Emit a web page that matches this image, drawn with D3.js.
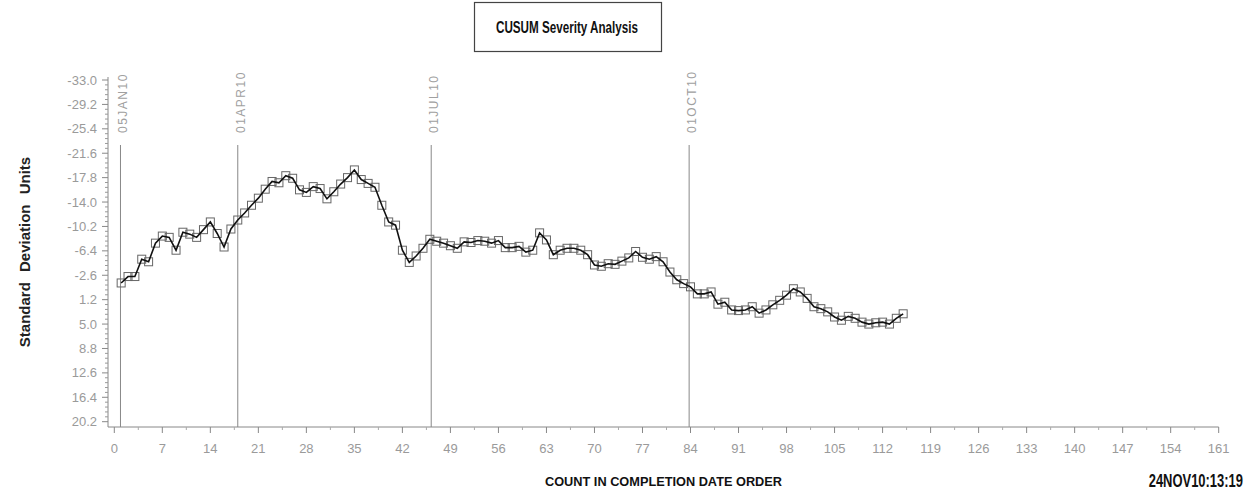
<!DOCTYPE html>
<html>
<head>
<meta charset="utf-8">
<script src="https://cdn.jsdelivr.net/npm/d3@7"></script>
<style>
  body { margin: 0; background: #fff; }
  .tick-label { font-family: 'Liberation Sans Narrow', 'Arial Narrow', sans-serif; font-size: 13px; fill: #9a9a9a; }
  .ref-label { font-family: 'Liberation Sans Narrow', 'Arial Narrow', sans-serif; font-size: 12px; fill: #a0a0a0; letter-spacing: 1.5px; }
</style>
</head>
<body>
<svg></svg>
<script>
'use strict';
// cusum values in order of completion date (count = index + 1)
var cusum = [
  -1.4, -2.4, -2.4, -5.1, -4.7, -7.6, -8.7, -8.5, -6.5, -9.3,
  -9.0, -8.5, -9.7, -10.9, -9.1, -7.0, -9.8, -11.2, -12.3, -13.5,
  -14.6, -16.0, -17.2, -17.0, -18.1, -17.7, -15.9, -15.5, -16.4, -16.1,
  -14.5, -15.6, -16.8, -17.8, -19.0, -17.5, -16.9, -16.3, -13.5, -10.9,
  -10.4, -6.5, -4.6, -5.6, -6.8, -8.2, -7.9, -7.6, -7.2, -6.8,
  -7.8, -7.7, -8.0, -7.9, -7.6, -8.0, -6.9, -6.9, -7.1, -6.2,
  -6.5, -9.2, -8.1, -5.8, -6.5, -6.8, -6.8, -6.5, -5.8, -4.2,
  -4.0, -4.4, -4.3, -4.8, -5.3, -6.3, -5.4, -5.1, -5.5, -4.7,
  -3.1, -1.9, -1.3, -0.8, 0.3, 0.3, 0.0, 1.9, 1.6, 2.8,
  2.9, 2.8, 2.3, 3.3, 2.8, 2.0, 1.3, 0.5, -0.5, 0.0,
  1.0, 2.3, 2.6, 3.1, 3.9, 4.4, 3.8, 4.1, 4.7, 5.0,
  4.8, 4.7, 5.0, 4.1, 3.4
];
var yTicks = [-33.0, -29.2, -25.4, -21.6, -17.8, -14.0, -10.2, -6.4, -2.6, 1.2, 5.0, 8.8, 12.6, 16.4, 20.2];
var xTicks = [0, 7, 14, 21, 28, 35, 42, 49, 56, 63, 70, 77, 84, 91, 98, 105, 112, 119, 126, 133, 140, 147, 154, 161];
var refLabels = ['05JAN10', '01APR10', '01JUL10', '01OCT10'];
var refCounts = [0.9, 18, 46.2, 83.8];

var canvasWidth = 1247;
var canvasHeight = 493;

var svg = d3.select('svg')
  .attr('width', canvasWidth)
  .attr('height', canvasHeight);

var xScale = d3.scaleLinear().domain([0, 161]).range([114.3, 1218.7]);
var yScale = d3.scaleLinear().domain([-33, 20.2]).range([80, 421.7]);
var axisX = 108;
var axisY = 427;

// title box
svg.append('rect')
  .attr('x', 474.5).attr('y', 2.5)
  .attr('width', 187).attr('height', 49)
  .attr('fill', 'none')
  .attr('stroke', '#444')
  .attr('stroke-width', 1.2);
svg.append('text')
  .attr('x', 496).attr('y', 33)
  .attr('textLength', 142)
  .attr('lengthAdjust', 'spacingAndGlyphs')
  .style('font-family', "'Liberation Sans', Arial, sans-serif")
  .style('font-weight', 'bold')
  .style('font-size', '16px')
  .style('fill', '#111')
  .text('CUSUM Severity Analysis');

// y axis
svg.append('line')
  .attr('x1', axisX).attr('x2', axisX)
  .attr('y1', 77).attr('y2', axisY)
  .attr('stroke', '#888');
var yMinor = [];
yTicks.forEach(function(t, i) {
  if (i < yTicks.length - 1) {
    for (var k = 1; k < 5; k++) yMinor.push(t + k * (yTicks[i + 1] - t) / 5);
  }
});
svg.selectAll('.yminor').data(yMinor).enter().append('line')
  .attr('class', 'yminor')
  .attr('x1', axisX - 3).attr('x2', axisX)
  .attr('y1', function(d) { return yScale(d); })
  .attr('y2', function(d) { return yScale(d); })
  .attr('stroke', '#999');
svg.selectAll('.ymajor').data(yTicks).enter().append('line')
  .attr('class', 'ymajor')
  .attr('x1', axisX - 6).attr('x2', axisX)
  .attr('y1', function(d) { return yScale(d); })
  .attr('y2', function(d) { return yScale(d); })
  .attr('stroke', '#888');
svg.selectAll('.ylab').data(yTicks).enter().append('text')
  .attr('class', 'tick-label')
  .attr('x', 97)
  .attr('y', function(d) { return yScale(d) + 4.5; })
  .attr('text-anchor', 'end')
  .text(function(d) { return d3.format('.1f')(d).replace('\u2212', '-'); });

svg.append('text')
  .attr('transform', 'translate(30,252) rotate(-90)')
  .attr('text-anchor', 'middle')
  .style('font-family', "'Liberation Sans', Arial, sans-serif")
  .style('font-weight', 'bold')
  .style('font-size', '15px')
  .style('word-spacing', '6px')
  .style('fill', '#222')
  .text('Standard Deviation Units');

// x axis
svg.append('line')
  .attr('x1', axisX).attr('x2', xScale(161))
  .attr('y1', axisY).attr('y2', axisY)
  .attr('stroke', '#888');
var xMinor = xTicks.slice(0, -1).map(function(t, i) { return (t + xTicks[i + 1]) / 2; });
svg.selectAll('.xminor').data(xMinor).enter().append('line')
  .attr('class', 'xminor')
  .attr('x1', function(d) { return xScale(d); })
  .attr('x2', function(d) { return xScale(d); })
  .attr('y1', axisY).attr('y2', axisY + 3)
  .attr('stroke', '#aaa');
svg.selectAll('.xmajor').data(xTicks).enter().append('line')
  .attr('class', 'xmajor')
  .attr('x1', function(d) { return xScale(d); })
  .attr('x2', function(d) { return xScale(d); })
  .attr('y1', axisY).attr('y2', axisY + 6)
  .attr('stroke', '#888');
svg.selectAll('.xlab').data(xTicks).enter().append('text')
  .attr('class', 'tick-label')
  .attr('x', function(d) { return xScale(d); })
  .attr('y', 453)
  .attr('text-anchor', 'middle')
  .text(function(d) { return d; });

svg.append('text')
  .attr('x', 545).attr('y', 486)
  .attr('textLength', 237)
  .attr('lengthAdjust', 'spacingAndGlyphs')
  .style('font-family', "'Liberation Sans', Arial, sans-serif")
  .style('font-weight', 'bold')
  .style('font-size', '13px')
  .style('fill', '#111')
  .text('COUNT IN COMPLETION DATE ORDER');

// run stamp, squeezed horizontally like the original
svg.append('text')
  .attr('transform', 'translate(1243,487) scale(0.72,1)')
  .attr('text-anchor', 'end')
  .style('font-family', "'Liberation Sans', Arial, sans-serif")
  .style('font-weight', 'bold')
  .style('font-size', '18px')
  .style('fill', '#111')
  .text('24NOV10:13:19');

// reference lines for dates
svg.selectAll('.ref').data(refCounts).enter().append('line')
  .attr('class', 'ref')
  .attr('x1', function(d) { return xScale(d); })
  .attr('x2', function(d) { return xScale(d); })
  .attr('y1', 145).attr('y2', axisY)
  .attr('stroke', '#888');
svg.selectAll('.reflab').data(refCounts).enter().append('text')
  .attr('class', 'ref-label')
  .attr('transform', function(d) { return 'translate(' + (xScale(d) + 7) + ',133) rotate(-90)'; })
  .text(function(d, i) { return refLabels[i]; });

// cusum line and markers
var line = d3.line()
  .x(function(d, i) { return xScale(i + 1); })
  .y(function(d) { return yScale(d); });

svg.selectAll('.pt').data(cusum).enter().append('rect')
  .attr('class', 'pt')
  .attr('x', function(d, i) { return xScale(i + 1) - 4; })
  .attr('y', function(d) { return yScale(d) - 4; })
  .attr('width', 8).attr('height', 8)
  .attr('fill', 'none')
  .attr('stroke', '#666')
  .attr('stroke-width', 1);

svg.append('path')
  .datum(cusum)
  .attr('d', line)
  .attr('fill', 'none')
  .attr('stroke', '#111')
  .attr('stroke-width', 1.6);
</script>
</body>
</html>
